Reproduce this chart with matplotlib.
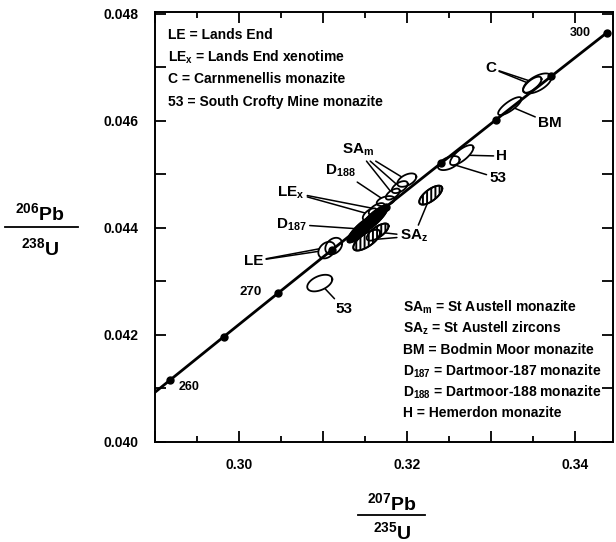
# U-Pb concordia diagram, Cornubian batholith monazites / zircons / xenotime
import numpy as np
import matplotlib.pyplot as plt
from matplotlib.ticker import MultipleLocator, FuncFormatter

plt.rcParams['font.family'] = ['Liberation Sans', 'DejaVu Sans']
plt.rcParams['font.weight'] = 'bold'
plt.rcParams['mathtext.fontset'] = 'custom'
plt.rcParams['mathtext.rm'] = 'Liberation Sans:bold'
plt.rcParams['mathtext.it'] = 'Liberation Sans:bold:italic'
plt.rcParams['mathtext.bf'] = 'Liberation Sans:bold'
plt.rcParams['mathtext.default'] = 'rm'
plt.rcParams['hatch.linewidth'] = 1.4

# concordia age marks (Ma) and their ratios
conc_ages = [260, 265, 270, 275, 280, 285, 290, 295, 300]
conc_x = [0.29183, 0.29821, 0.30462, 0.31105, 0.31752, 0.32403, 0.33057, 0.33714, 0.34374]
conc_y = [0.041157, 0.041965, 0.042773, 0.043582, 0.044392, 0.045203, 0.046014, 0.046825, 0.047637]
# 255 Ma point, only used so the line runs off the left edge
tail_x = 0.28549
tail_y = 0.040350

# error ellipses: centre, half extent in x and y, correlation, style
ell_name = ['C1', 'C2', 'BM', 'H', '53a', 'SAm1', 'SAm2', 'SAm3', 'D188',
            'LEx1', 'LEx2', 'D187a', 'D187b', 'SAz1', 'SAz2', 'SAz3',
            'LE1', 'LE2', '53b']
ell_x = [0.33550, 0.33490, 0.33223, 0.32651, 0.32496, 0.31997, 0.31913, 0.31830, 0.31746,
         0.31639, 0.31556, 0.31600, 0.31461, 0.32282, 0.31650, 0.31520,
         0.31044, 0.31127, 0.30961]
ell_sx = [0.00169, 0.00110, 0.00139, 0.00139, 0.00129, 0.00113, 0.00095, 0.00083, 0.00107,
          0.00095, 0.00083, 0.00170, 0.00170, 0.00137, 0.00130, 0.00160,
          0.00100, 0.00100, 0.00149]
ell_y = [0.046694, 0.046670, 0.046270, 0.045355, 0.045206, 0.044888, 0.044757, 0.044626, 0.044496,
         0.044346, 0.044249, 0.044160, 0.043973, 0.044607, 0.043917, 0.043767,
         0.043580, 0.043655, 0.042964]
ell_sy = [0.000187, 0.000150, 0.000168, 0.000187, 0.000131, 0.000125, 0.000112, 0.000103, 0.000093,
          0.000112, 0.000112, 0.000250, 0.000250, 0.000177, 0.000160, 0.000195,
          0.000155, 0.000155, 0.000155]
ell_rho = [0.6, 0.7, 0.8, 0.75, 0.5, 0.5, 0.55, 0.6, 0.4,
           0.6, 0.6, 0.85, 0.85, 0.7, 0.7, 0.7,
           0.3, 0.3, 0.45]
ell_style = ['open', 'open', 'open', 'open', 'open', 'open', 'open', 'open', 'open',
             'open', 'open', 'black', 'black', 'hatch', 'hatch', 'hatch',
             'open', 'open', 'open']

legend_top = ['LE = Lands End', 'LE$_x$ = Lands End xenotime',
              'C = Carnmenellis monazite', '53 = South Crofty Mine monazite']
legend_bottom = ['SA$_m$ = St Austell monazite', 'SA$_z$ = St Austell zircons',
                 'BM = Bodmin Moor monazite', 'D$_{187}$ = Dartmoor-187 monazite',
                 'D$_{188}$ = Dartmoor-188 monazite', 'H = Hemerdon monazite']


def ellipse_xy(cx, sx, cy, sy, rho, n=120):
    t = np.linspace(0, 2 * np.pi, n)
    x = cx + sx * np.cos(t)
    y = cy + sy * (rho * np.cos(t) + np.sqrt(1 - rho ** 2) * np.sin(t))
    return x, y


fig = plt.figure(figsize=(6.16, 5.42), dpi=100)
ax = fig.add_axes([0.2516, 0.185, 0.7434, 0.793])

# concordia
ax.plot([tail_x] + conc_x, [tail_y] + conc_y, color='black', lw=2.0, zorder=4)
ax.plot(conc_x, conc_y, 'o', color='black', ms=5, zorder=4)

# ellipses: fills first, then outlines
ells = {}
for name, x, sx, y, sy, r, st in zip(ell_name, ell_x, ell_sx, ell_y, ell_sy, ell_rho, ell_style):
    ex, ey = ellipse_xy(x, sx, y, sy, r)
    ells[name] = (x, y)
    if st == 'black':
        ax.fill(ex, ey, facecolor='black', edgecolor='black', lw=1.3, zorder=2)
    elif st == 'hatch':
        ax.fill(ex, ey, facecolor='white', edgecolor='black', hatch='||||', lw=1.3, zorder=2)
    else:
        ax.fill(ex, ey, facecolor='white', edgecolor='none', zorder=2)
for name, x, sx, y, sy, r, st in zip(ell_name, ell_x, ell_sx, ell_y, ell_sy, ell_rho, ell_style):
    ex, ey = ellipse_xy(x, sx, y, sy, r)
    ax.plot(ex, ey, color='black', lw=1.3, zorder=3)


def label(text, pos, targets, size=11):
    for i, t in enumerate(targets):
        ax.annotate(text, xy=ells[t], xytext=pos, ha='center', va='center',
                    fontsize=size, fontweight='bold',
                    color='black' if i == 0 else 'none',
                    arrowprops=dict(arrowstyle='-', lw=1.1, color='black',
                                    shrinkA=0, shrinkB=0),
                    zorder=1)


label('LE', (0.30175, 0.043375), ['LE1', 'LE2'])
label('LE$_x$', (0.30616, 0.044660), ['LEx1', 'LEx2'])
label('D$_{\\mathit{187}}$', (0.30627, 0.044062), ['D187b'])
label('D$_{188}$', (0.31211, 0.045056), ['D188'])
label('SA$_m$', (0.31413, 0.045448), ['SAm1', 'SAm2', 'SAm3'])
label('SA$_z$', (0.32080, 0.043842), ['SAz2', 'SAz3', 'SAz1'])
label('53', (0.31246, 0.042489), ['53b'])
label('53', (0.33080, 0.044925), ['53a'])
label('H', (0.33128, 0.045336), ['H'])
label('BM', (0.33699, 0.045953), ['BM'])
label('C', (0.32997, 0.046981), ['C1', 'C2'])

# age labels on the concordia
ax.text(0.34056, 0.047635, '300', fontsize=9, ha='center', va='center')
ax.text(0.30139, 0.042796, '270', fontsize=9.5, ha='center', va='center')
ax.text(0.29401, 0.041022, '260', fontsize=9, ha='center', va='center')

for i, s in enumerate(legend_top):
    ax.text(0.028, 0.946 - i * 0.0515, s, transform=ax.transAxes, fontsize=10, va='center')
for i, s in enumerate(legend_bottom):
    ax.text(0.542, 0.313 - i * 0.0494, s, transform=ax.transAxes, fontsize=10, va='center')

ax.set_xlim(0.290, 0.3445)
ax.set_ylim(0.040, 0.04803)

ax.xaxis.set_major_locator(MultipleLocator(0.01))
ax.xaxis.set_minor_locator(MultipleLocator(0.005))
ax.yaxis.set_major_locator(MultipleLocator(0.001))
ax.xaxis.set_major_formatter(FuncFormatter(lambda v, p: f'{v:.2f}' if round(v / 0.01) % 2 == 0 else ''))
ax.yaxis.set_major_formatter(FuncFormatter(lambda v, p: f'{v:.3f}' if round(v / 0.001) % 2 == 0 else ''))
ax.tick_params(which='both', direction='in', top=True, right=True, width=1.3, labelsize=10)
ax.tick_params(which='major', length=8)
ax.tick_params(which='minor', length=4)
ax.tick_params(axis='x', pad=12)
ax.tick_params(axis='y', pad=12)
for lab in ax.get_xticklabels() + ax.get_yticklabels():
    lab.set_fontweight('bold')
for sp in ax.spines.values():
    sp.set_linewidth(1.4)

# fraction-style axis labels
fig.text(0.636, 0.059, '$^{207}$Pb', fontsize=14, ha='center', va='baseline')
fig.add_artist(plt.Line2D([0.581, 0.690], [0.050, 0.050], color='black', lw=1.3))
fig.text(0.636, 0.006, '$^{235}$U', fontsize=14, ha='center', va='baseline')

fig.text(0.064, 0.594, '$^{206}$Pb', fontsize=14, ha='center', va='baseline')
fig.add_artist(plt.Line2D([0.008, 0.127], [0.582, 0.582], color='black', lw=1.3))
fig.text(0.066, 0.530, '$^{238}$U', fontsize=14, ha='center', va='baseline')

fig.savefig('out.png', dpi=100)
